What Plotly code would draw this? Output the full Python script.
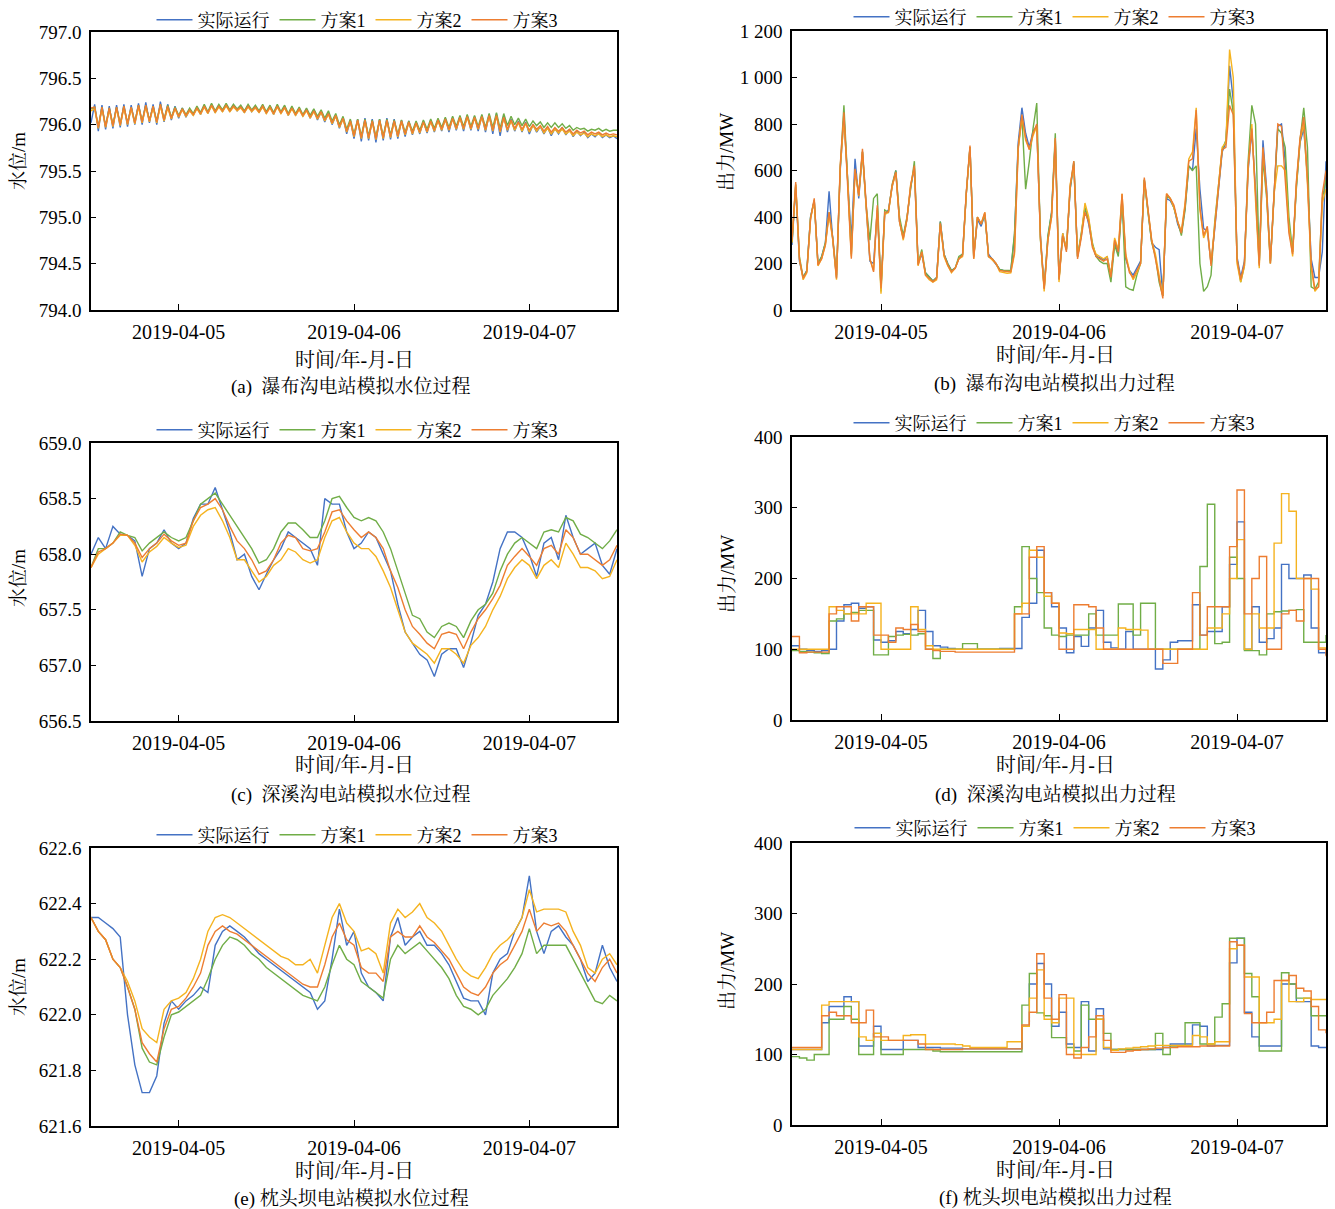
import pandas as pd
import plotly.graph_objects as go

# ---------------- time axes ----------------
t_half = pd.date_range("2019-04-04 12:00", periods=145, freq="30min")
t_hour = pd.date_range("2019-04-04 12:00", periods=73, freq="h")
names = ["实际运行", "方案1", "方案2", "方案3"]
colors = ["#4472C4", "#70AD47", "#F5B31F", "#ED7D31"]

# ---------------- (a) 瀑布沟 水位 (30 min) ----------------
a_blue = [796.02, 796.22, 795.93, 796.21, 795.95, 796.20, 795.96, 796.21, 795.97, 796.22, 795.98, 796.21,
          796.00, 796.23, 796.00, 796.24, 796.02, 796.22, 796.00, 796.25, 796.03, 796.22, 796.05, 796.20,
          796.07, 796.18, 796.08, 796.16, 796.10, 796.19, 796.11, 796.21, 796.12, 796.22, 796.13, 796.21,
          796.14, 796.22, 796.14, 796.21, 796.15, 796.20, 796.13, 796.21, 796.14, 796.20, 796.13, 796.21,
          796.12, 796.20, 796.11, 796.21, 796.12, 796.20, 796.10, 796.19, 796.10, 796.18, 796.09, 796.17,
          796.07, 796.16, 796.05, 796.14, 796.03, 796.13, 796.00, 796.10, 795.96, 796.08, 795.90, 796.05,
          795.85, 796.06, 795.82, 796.07, 795.83, 796.06, 795.81, 796.06, 795.83, 796.07, 795.84, 796.06,
          795.85, 796.05, 795.87, 796.04, 795.89, 796.03, 795.90, 796.04, 795.91, 796.05, 795.92, 796.06,
          795.93, 796.07, 795.92, 796.08, 795.94, 796.09, 795.93, 796.10, 795.94, 796.09, 795.93, 796.10,
          795.92, 796.11, 795.90, 796.12, 795.88, 796.10, 795.92, 796.06, 795.93, 796.04, 795.92, 796.03,
          795.90, 796.00, 795.92, 795.98, 795.90, 795.97, 795.88, 795.96, 795.90, 795.97, 795.89, 795.95,
          795.87, 795.93, 795.88, 795.92, 795.86, 795.90, 795.87, 795.91, 795.86, 795.89, 795.86, 795.88,
          795.85]
a_green = [796.17, 796.19, 795.98, 796.19, 795.99, 796.18, 796.00, 796.19, 796.01, 796.20, 796.02, 796.19,
           796.03, 796.21, 796.04, 796.21, 796.05, 796.20, 796.04, 796.22, 796.06, 796.21, 796.08, 796.19,
           796.10, 796.18, 796.11, 796.18, 796.12, 796.20, 796.13, 796.22, 796.14, 796.23, 796.15, 796.22,
           796.16, 796.23, 796.16, 796.22, 796.17, 796.21, 796.15, 796.22, 796.16, 796.21, 796.15, 796.22,
           796.14, 796.21, 796.13, 796.22, 796.14, 796.21, 796.12, 796.20, 796.12, 796.19, 796.11, 796.18,
           796.10, 796.17, 796.09, 796.16, 796.07, 796.15, 796.04, 796.12, 796.00, 796.09, 795.95, 796.06,
           795.90, 796.06, 795.88, 796.06, 795.88, 796.05, 795.87, 796.06, 795.88, 796.06, 795.89, 796.05,
           795.90, 796.05, 795.92, 796.04, 795.93, 796.04, 795.94, 796.05, 795.95, 796.06, 795.96, 796.07,
           795.97, 796.08, 795.97, 796.09, 795.98, 796.10, 795.98, 796.11, 795.98, 796.10, 795.98, 796.11,
           795.97, 796.12, 795.97, 796.13, 795.96, 796.12, 795.99, 796.09, 796.00, 796.07, 795.99, 796.06,
           795.98, 796.04, 795.99, 796.03, 795.97, 796.02, 795.97, 796.02, 795.97, 796.01, 795.96, 795.99,
           795.94, 795.97, 795.95, 795.96, 795.93, 795.95, 795.94, 795.96, 795.93, 795.95, 795.93, 795.94,
           795.94]
a_yellow = [796.15, 796.17, 795.96, 796.17, 795.97, 796.16, 795.98, 796.17, 795.99, 796.18, 796.00, 796.17,
            796.01, 796.19, 796.02, 796.19, 796.03, 796.18, 796.02, 796.20, 796.04, 796.18, 796.06, 796.17,
            796.08, 796.16, 796.09, 796.15, 796.10, 796.17, 796.11, 796.19, 796.12, 796.20, 796.13, 796.19,
            796.14, 796.20, 796.14, 796.19, 796.15, 796.18, 796.13, 796.19, 796.14, 796.18, 796.13, 796.19,
            796.12, 796.18, 796.11, 796.19, 796.12, 796.18, 796.10, 796.17, 796.10, 796.16, 796.09, 796.15,
            796.07, 796.14, 796.06, 796.13, 796.04, 796.11, 796.01, 796.09, 795.97, 796.06, 795.92, 796.03,
            795.87, 796.04, 795.85, 796.04, 795.85, 796.03, 795.84, 796.04, 795.85, 796.04, 795.86, 796.03,
            795.87, 796.03, 795.89, 796.02, 795.90, 796.01, 795.91, 796.02, 795.92, 796.03, 795.93, 796.04,
            795.94, 796.05, 795.94, 796.06, 795.95, 796.07, 795.95, 796.08, 795.95, 796.07, 795.95, 796.08,
            795.94, 796.09, 795.93, 796.09, 795.92, 796.07, 795.94, 796.04, 795.94, 796.02, 795.93, 796.01,
            795.92, 795.99, 795.93, 795.98, 795.91, 795.96, 795.90, 795.95, 795.91, 795.95, 795.90, 795.93,
            795.88, 795.92, 795.89, 795.91, 795.87, 795.90, 795.88, 795.90, 795.87, 795.89, 795.87, 795.88,
            795.87]
a_orange = [796.18, 796.19, 795.97, 796.19, 795.98, 796.18, 795.99, 796.19, 796.00, 796.20, 796.01, 796.19,
            796.02, 796.21, 796.03, 796.21, 796.04, 796.20, 796.03, 796.22, 796.05, 796.20, 796.07, 796.18,
            796.09, 796.17, 796.10, 796.16, 796.11, 796.18, 796.12, 796.20, 796.13, 796.21, 796.14, 796.20,
            796.15, 796.21, 796.15, 796.20, 796.16, 796.19, 796.14, 796.20, 796.15, 796.19, 796.14, 796.20,
            796.13, 796.19, 796.12, 796.20, 796.13, 796.19, 796.11, 796.18, 796.11, 796.17, 796.10, 796.16,
            796.08, 796.15, 796.07, 796.14, 796.05, 796.12, 796.02, 796.10, 795.98, 796.07, 795.93, 796.04,
            795.88, 796.05, 795.86, 796.05, 795.86, 796.04, 795.85, 796.05, 795.86, 796.05, 795.87, 796.04,
            795.88, 796.04, 795.90, 796.03, 795.91, 796.02, 795.92, 796.03, 795.93, 796.04, 795.94, 796.05,
            795.95, 796.06, 795.95, 796.07, 795.96, 796.08, 795.96, 796.09, 795.96, 796.08, 795.96, 796.09,
            795.95, 796.10, 795.94, 796.10, 795.93, 796.08, 795.95, 796.05, 795.96, 796.03, 795.95, 796.02,
            795.94, 796.00, 795.95, 795.99, 795.93, 795.98, 795.92, 795.97, 795.93, 795.97, 795.92, 795.95,
            795.90, 795.94, 795.91, 795.93, 795.89, 795.92, 795.90, 795.92, 795.89, 795.91, 795.89, 795.90,
            795.89]

# ---------------- (b) 瀑布沟 出力 (30 min) ----------------
b_blue = [280, 530, 210, 140, 170, 400, 470, 200, 230, 290, 510, 300,
          140, 600, 830, 560, 300, 650, 480, 680, 440, 210, 200, 430,
          100, 410, 430, 530, 600, 380, 310, 390, 530, 610, 200, 240,
          160, 140, 125, 140, 380, 240, 200, 170, 180, 220, 240, 500,
          700, 230, 390, 360, 410, 240, 220, 200, 175, 170, 170, 168,
          320, 720, 870, 760, 700, 770, 790, 320, 95, 310, 420, 730,
          135, 330, 260, 520, 630, 230, 320, 440, 370, 280, 230, 225,
          215, 230, 150, 290, 240, 480, 220, 170, 150, 180, 210, 560,
          410, 290, 270, 260, 60, 480, 470, 440, 370, 330, 440, 620,
          600, 780, 520, 350, 340, 200, 350, 520, 680, 720, 1050, 900,
          230, 140, 210, 600, 770, 520, 200, 730, 520, 210, 480, 790,
          800, 640, 350, 250, 530, 720, 780, 570, 220, 140, 140, 250,
          640]
b_green = [290, 540, 230, 140, 170, 400, 470, 200, 230, 290, 420, 310,
           150, 610, 880, 570, 240, 600, 500, 680, 450, 300, 480, 500,
           80, 430, 420, 540, 600, 400, 320, 400, 520, 640, 200, 260,
           160, 140, 125, 140, 380, 240, 200, 170, 180, 230, 240, 500,
           700, 230, 400, 370, 410, 230, 220, 200, 175, 170, 170, 170,
           330, 700, 830, 520, 640, 780, 890, 300, 95, 320, 420, 760,
           135, 320, 260, 520, 640, 230, 330, 440, 390, 290, 230, 210,
           200, 200, 120, 280, 230, 480, 100, 90, 85, 150, 200, 560,
           420, 290, 230, 120, 60, 490, 480, 440, 380, 320, 430, 620,
           600, 620, 200, 80, 100, 150, 380, 550, 690, 730, 950, 850,
           220, 120, 190, 640, 880, 800, 200, 650, 480, 200, 510, 780,
           760, 700, 400, 250, 520, 730, 870, 700, 100, 90, 120, 480,
           560]
b_yellow = [290, 540, 220, 130, 160, 390, 470, 190, 220, 280, 410, 300,
            130, 610, 820, 560, 230, 600, 490, 680, 440, 220, 170, 440,
            70, 410, 420, 530, 590, 380, 300, 390, 540, 610, 190, 250,
            150, 130, 120, 130, 370, 230, 190, 160, 180, 220, 230, 500,
            700, 220, 400, 370, 420, 230, 215, 200, 165, 160, 158, 160,
            240, 690, 830, 730, 690, 750, 790, 310, 80, 300, 400, 730,
            120, 330, 260, 540, 620, 230, 320, 460, 400, 280, 240, 230,
            220, 230, 150, 310, 260, 500, 240, 170, 130, 160, 200, 560,
            420, 300, 240, 140, 60, 500, 480, 440, 380, 340, 460, 650,
            680, 870, 430, 310, 350, 200, 370, 540, 700, 720, 1120, 1000,
            200, 120, 190, 610, 800, 470, 180, 690, 500, 200, 500, 620,
            620, 600, 360, 230, 540, 730, 800, 540, 180, 80, 100, 460,
            520]
b_orange = [300, 550, 220, 136, 164, 393, 480, 193, 221, 279, 421, 307,
            136, 621, 850, 564, 221, 607, 493, 693, 450, 221, 164, 450,
            93, 421, 421, 536, 593, 379, 307, 393, 536, 621, 193, 250,
            150, 136, 121, 136, 373, 236, 193, 164, 179, 221, 236, 507,
            707, 221, 400, 370, 420, 230, 220, 200, 170, 168, 165, 165,
            250, 700, 840, 740, 690, 760, 800, 307, 90, 300, 400, 740,
            130, 320, 250, 530, 640, 220, 310, 420, 380, 270, 230, 220,
            210, 220, 140, 300, 250, 500, 230, 160, 140, 170, 200, 570,
            420, 300, 220, 130, 50, 500, 480, 450, 380, 330, 450, 640,
            650, 860, 440, 320, 360, 190, 360, 530, 690, 700, 880, 840,
            220, 130, 200, 620, 780, 500, 190, 700, 500, 200, 500, 800,
            790, 540, 330, 240, 550, 740, 830, 560, 200, 90, 100, 500,
            600]

# ---------------- (c) 深溪沟 水位 (hourly) ----------------
c_blue = [658.00, 658.15, 658.05, 658.25, 658.18, 658.17, 658.12, 657.80, 658.05, 658.10, 658.22, 658.10,
          658.05, 658.10, 658.32, 658.45, 658.45, 658.60, 658.40, 658.20, 657.95, 658.00, 657.80, 657.68,
          657.82, 657.95, 658.05, 658.20, 658.15, 658.10, 658.05, 657.90, 658.50, 658.45, 658.45, 658.20,
          658.05, 658.10, 658.20, 658.15, 658.00, 657.85, 657.55, 657.30, 657.20, 657.10, 657.05, 656.90,
          657.10, 657.15, 657.15, 656.98, 657.20, 657.45, 657.55, 657.75, 658.05, 658.20, 658.20, 658.15,
          658.00, 657.80, 658.10, 658.15, 657.95, 658.35, 658.15, 658.00, 658.05, 658.10, 657.90, 657.82,
          658.05]
c_green = [657.88, 658.05, 658.05, 658.10, 658.20, 658.17, 658.15, 658.03, 658.10, 658.15, 658.20, 658.15,
           658.12, 658.15, 658.30, 658.45, 658.50, 658.55, 658.45, 658.35, 658.25, 658.15, 658.05, 657.92,
           657.95, 658.05, 658.20, 658.28, 658.28, 658.22, 658.15, 658.15, 658.30, 658.50, 658.52, 658.42,
           658.33, 658.30, 658.33, 658.30, 658.20, 658.05, 657.85, 657.65, 657.45, 657.42, 657.30, 657.25,
           657.35, 657.38, 657.35, 657.25, 657.40, 657.50, 657.55, 657.65, 657.85, 658.00, 658.10, 658.15,
           658.10, 658.05, 658.20, 658.22, 658.20, 658.33, 658.30, 658.18, 658.15, 658.10, 658.05, 658.12,
           658.22]
c_yellow = [657.88, 658.00, 658.05, 658.10, 658.17, 658.17, 658.08, 657.93, 658.02, 658.07, 658.15, 658.10,
            658.06, 658.08, 658.25, 658.35, 658.40, 658.42, 658.30, 658.15, 657.95, 657.95, 657.85, 657.75,
            657.80, 657.90, 657.95, 658.05, 658.02, 657.95, 657.92, 657.95, 658.15, 658.30, 658.33, 658.20,
            658.10, 658.05, 658.05, 657.98, 657.85, 657.70, 657.50, 657.30, 657.20, 657.15, 657.10, 657.02,
            657.15, 657.15, 657.10, 657.02, 657.18, 657.25, 657.35, 657.50, 657.62, 657.78, 657.88, 657.95,
            657.90, 657.78, 657.90, 657.95, 657.88, 658.10, 658.00, 657.88, 657.88, 657.85, 657.78, 657.80,
            657.95]
c_orange = [657.88, 658.02, 658.05, 658.10, 658.18, 658.17, 658.10, 657.97, 658.05, 658.10, 658.18, 658.12,
            658.08, 658.10, 658.30, 658.42, 658.45, 658.50, 658.40, 658.25, 658.12, 658.05, 657.95, 657.82,
            657.85, 657.95, 658.10, 658.17, 658.15, 658.05, 658.03, 658.05, 658.20, 658.38, 658.40, 658.30,
            658.22, 658.15, 658.20, 658.15, 658.05, 657.85, 657.70, 657.50, 657.35, 657.28, 657.20, 657.15,
            657.28, 657.30, 657.28, 657.15, 657.30, 657.42, 657.50, 657.60, 657.72, 657.90, 657.98, 658.05,
            657.98, 657.90, 658.05, 658.08, 658.00, 658.22, 658.15, 658.00, 658.00, 657.95, 657.90, 657.95,
            658.08]

# ---------------- (d) 深溪沟 出力 (hourly) ----------------
d_blue = [105, 100, 98, 97, 98, 100, 140, 163, 165, 158, 160, 113,
          110, 112, 125, 122, 128, 155, 125, 105, 103, 101, 100, 100,
          100, 100, 100, 100, 101, 101, 101, 145, 165, 240, 180, 160,
          130, 95, 118, 104, 130, 155, 110, 102, 100, 125, 100, 100,
          100, 72, 85, 110, 112, 112, 163, 120, 125, 125, 160, 220,
          280, 100, 160, 110, 115, 130, 220, 200, 200, 205, 130, 95,
          92]
d_green = [98, 97, 96, 95, 94, 140, 143, 150, 152, 155, 155, 92,
           92, 118, 120, 121, 120, 122, 100, 87, 100, 100, 100, 108,
           108, 100, 100, 100, 100, 100, 160, 245, 200, 180, 130, 120,
           118, 120, 120, 120, 150, 120, 120, 120, 164, 164, 120, 165,
           165, 100, 100, 100, 100, 100, 100, 217, 305, 108, 110, 230,
           200, 98, 98, 92, 150, 153, 154, 155, 156, 110, 110, 110,
           120]
d_yellow = [100, 100, 100, 100, 100, 160, 155, 150, 150, 150, 165, 165,
            100, 100, 100, 100, 160, 128, 105, 100, 100, 100, 100, 100,
            100, 100, 100, 100, 100, 100, 150, 165, 240, 230, 175, 165,
            123, 122, 128, 128, 128, 100, 100, 100, 130, 128, 128, 127,
            100, 100, 100, 100, 100, 100, 100, 100, 130, 130, 150, 200,
            255, 100, 150, 130, 130, 250, 320, 295, 200, 200, 185, 102,
            100]
d_orange = [118, 95, 96, 96, 96, 150, 160, 160, 140, 160, 160, 120,
            120, 110, 130, 128, 135, 125, 100, 98, 97, 97, 96, 96,
            96, 96, 96, 96, 96, 96, 150, 150, 230, 245, 180, 165,
            100, 100, 163, 163, 160, 130, 100, 100, 100, 100, 100, 100,
            100, 100, 80, 80, 100, 100, 180, 120, 160, 160, 160, 245,
            325, 150, 200, 231, 100, 100, 150, 155, 140, 200, 200, 100,
            90]

# ---------------- (e) 枕头坝 水位 (hourly) ----------------
e_blue = [622.35, 622.35, 622.33, 622.31, 622.28, 622.00, 621.82, 621.72, 621.72, 621.78, 621.97, 622.05,
          622.02, 622.05, 622.07, 622.10, 622.08, 622.25, 622.30, 622.32, 622.30, 622.28, 622.25, 622.22,
          622.20, 622.18, 622.16, 622.14, 622.12, 622.10, 622.08, 622.02, 622.05, 622.20, 622.38, 622.25,
          622.30, 622.15, 622.10, 622.08, 622.05, 622.28, 622.35, 622.25, 622.28, 622.30, 622.25, 622.25,
          622.22, 622.18, 622.12, 622.06, 622.05, 622.05, 622.00, 622.15, 622.20, 622.22, 622.30, 622.35,
          622.50, 622.30, 622.22, 622.30, 622.32, 622.28, 622.25, 622.20, 622.12, 622.15, 622.25, 622.17,
          622.12]
e_green = [622.35, 622.30, 622.27, 622.20, 622.17, 622.10, 622.02, 621.88, 621.83, 621.82, 621.92, 622.00,
           622.01, 622.03, 622.05, 622.07, 622.13, 622.20, 622.25, 622.28, 622.27, 622.25, 622.22, 622.20,
           622.17, 622.15, 622.13, 622.11, 622.09, 622.07, 622.06, 622.05, 622.10, 622.18, 622.25, 622.20,
           622.18, 622.12, 622.10, 622.08, 622.06, 622.20, 622.25, 622.22, 622.24, 622.26, 622.23, 622.20,
           622.17, 622.13, 622.07, 622.03, 622.02, 622.00, 622.02, 622.07, 622.10, 622.13, 622.17, 622.22,
           622.31, 622.22, 622.25, 622.25, 622.25, 622.25, 622.20, 622.15, 622.10, 622.05, 622.04, 622.07,
           622.05]
e_yellow = [622.35, 622.30, 622.27, 622.20, 622.17, 622.12, 622.05, 621.95, 621.92, 621.90, 622.02, 622.05,
            622.06, 622.08, 622.13, 622.20, 622.30, 622.35, 622.36, 622.35, 622.33, 622.31, 622.29, 622.27,
            622.25, 622.23, 622.21, 622.20, 622.18, 622.18, 622.20, 622.15, 622.25, 622.35, 622.40, 622.33,
            622.30, 622.23, 622.24, 622.22, 622.15, 622.33, 622.38, 622.35, 622.37, 622.40, 622.35, 622.33,
            622.30, 622.25, 622.20, 622.16, 622.14, 622.13, 622.17, 622.22, 622.25, 622.27, 622.30, 622.35,
            622.45, 622.37, 622.38, 622.38, 622.38, 622.37, 622.30, 622.25, 622.17, 622.15, 622.20, 622.22,
            622.18]
e_orange = [622.35, 622.30, 622.27, 622.20, 622.17, 622.10, 622.02, 621.90, 621.86, 621.83, 621.95, 622.02,
            622.03, 622.06, 622.10, 622.15, 622.25, 622.30, 622.32, 622.30, 622.29, 622.27, 622.25, 622.23,
            622.21, 622.19, 622.17, 622.15, 622.13, 622.11, 622.10, 622.10, 622.18, 622.28, 622.33, 622.27,
            622.25, 622.17, 622.15, 622.15, 622.12, 622.28, 622.30, 622.28, 622.28, 622.32, 622.28, 622.26,
            622.23, 622.20, 622.15, 622.10, 622.08, 622.07, 622.10, 622.15, 622.18, 622.20, 622.25, 622.30,
            622.38, 622.30, 622.33, 622.32, 622.33, 622.30, 622.25, 622.20, 622.15, 622.12, 622.17, 622.20,
            622.15]

# ---------------- (f) 枕头坝 出力 (hourly) ----------------
f_blue = [107, 107, 107, 107, 145, 168, 168, 182, 175, 112, 112, 140,
          107, 107, 107, 120, 120, 110, 110, 110, 109, 109, 109, 108,
          108, 108, 108, 108, 108, 108, 108, 140, 200, 229, 200, 140,
          160, 115, 110, 175, 105, 165, 108, 107, 107, 107, 107, 107,
          107, 107, 110, 115, 115, 115, 142, 140, 112, 113, 113, 230,
          265, 160, 125, 112, 112, 112, 200, 200, 175, 175, 112, 110,
          110]
f_green = [97, 95, 92, 100, 100, 150, 150, 168, 150, 100, 100, 130,
           100, 100, 100, 107, 107, 107, 107, 105, 104, 104, 104, 104,
           104, 104, 104, 104, 104, 104, 104, 170, 215, 159, 155, 124,
           124, 110, 105, 170, 150, 150, 130, 107, 107, 107, 107, 107,
           107, 130, 100, 112, 112, 145, 145, 115, 115, 153, 172, 265,
           265, 215, 182, 105, 105, 105, 216, 200, 180, 180, 155, 155,
           155]
f_yellow = [107, 107, 107, 107, 170, 175, 175, 175, 175, 125, 120, 130,
            120, 120, 120, 127, 128, 128, 115, 115, 115, 115, 114, 112,
            110, 110, 110, 110, 110, 118, 118, 140, 180, 220, 150, 145,
            180, 180, 100, 100, 100, 150, 110, 106, 108, 109, 110, 111,
            112, 113, 113, 113, 113, 113, 127, 125, 115, 118, 118, 250,
            255, 210, 210, 145, 145, 150, 205, 175, 175, 180, 178, 178,
            178]
f_orange = [110, 110, 110, 110, 155, 160, 155, 155, 145, 145, 163, 125,
            125, 120, 120, 120, 120, 115, 107, 107, 107, 107, 107, 108,
            108, 108, 108, 108, 108, 108, 108, 142, 160, 243, 180, 150,
            185, 100, 95, 110, 125, 155, 120, 103, 103, 105, 106, 107,
            108, 109, 110, 110, 111, 111, 111, 112, 112, 112, 112, 260,
            255, 158, 145, 145, 160, 205, 205, 212, 194, 190, 168, 135,
            130]

# ---------------- panel texts ----------------
captions = ["(a)  瀑布沟电站模拟水位过程", "(b)  瀑布沟电站模拟出力过程",
            "(c)  深溪沟电站模拟水位过程", "(d)  深溪沟电站模拟出力过程",
            "(e) 枕头坝电站模拟水位过程", "(f) 枕头坝电站模拟出力过程"]
xtitle = "时间/年-月-日"
ytitles = ["水位/m", "出力/MW", "水位/m", "出力/MW", "水位/m", "出力/MW"]
date_ticks = ["2019-04-05", "2019-04-06", "2019-04-07"]

W, H = 1335, 1209
FONT = "Liberation Serif, Noto Serif CJK SC, Noto Sans CJK SC, serif"


def px(x):
    return x / W


def py(y):
    return 1 - y / H


# panel boxes in pixels: (left, top, right, bottom)
boxes = [(91, 32, 617, 310), (792, 31, 1326, 310),
         (91, 443, 617, 721), (792, 437, 1326, 720),
         (91, 848, 617, 1126), (792, 843, 1326, 1125)]

panels = [
    (t_half, [a_blue, a_green, a_yellow, a_orange], "linear"),
    (t_half, [b_blue, b_green, b_yellow, b_orange], "linear"),
    (t_hour, [c_blue, c_green, c_yellow, c_orange], "linear"),
    (t_hour, [d_blue, d_green, d_yellow, d_orange], "hv"),
    (t_hour, [e_blue, e_green, e_yellow, e_orange], "linear"),
    (t_hour, [f_blue, f_green, f_yellow, f_orange], "hv"),
]

fig = go.Figure()
for i, (tt, series, shape) in enumerate(panels):
    n = i + 1
    xa = "x" if n == 1 else f"x{n}"
    ya = "y" if n == 1 else f"y{n}"
    lg = "legend" if n == 1 else f"legend{n}"
    for name, col, vals in zip(names, colors, series):
        fig.add_trace(go.Scatter(x=tt, y=vals, mode="lines", name=name,
                                 line=dict(color=col, width=1.4, shape=shape),
                                 xaxis=xa, yaxis=ya, legend=lg))

yranges = [[794, 797], [0, 1200], [656.5, 659], [0, 400], [621.6, 622.6], [0, 400]]
ydticks = [0.5, 200, 0.5, 100, 0.2, 100]
yfmt = [".1f", None, ".1f", None, ".1f", None]

layout = dict(width=W, height=H, margin=dict(l=0, r=0, t=0, b=0, autoexpand=False),
              paper_bgcolor="white", plot_bgcolor="white",
              font=dict(family=FONT, size=19, color="black"),
              showlegend=True, annotations=[])

legend_pos = [(357, 20), (1054, 17), (357, 430), (1054, 423), (357, 835), (1055, 828)]
ytitle_pos = [(18, 161), (727, 152), (18, 578), (727, 574), (18, 987), (727, 971)]
xtitle_pos = [(354, 360), (1055, 355), (354, 765), (1055, 765), (354, 1171), (1055, 1170)]
cap_pos = [(351, 387), (1054, 384), (351, 795), (1055, 795), (351, 1199), (1055, 1198)]

for i in range(6):
    n = i + 1
    l, t, r, b = boxes[i]
    xk = "xaxis" if n == 1 else f"xaxis{n}"
    yk = "yaxis" if n == 1 else f"yaxis{n}"
    ya = "y" if n == 1 else f"y{n}"
    xa = "x" if n == 1 else f"x{n}"
    layout[xk] = dict(domain=[px(l), px(r)], anchor=ya, type="date",
                      range=["2019-04-04 12:00", "2019-04-07 12:00"],
                      tickvals=date_ticks, ticktext=date_ticks,
                      ticks="inside", ticklen=6, tickwidth=1.3, tickcolor="black",
                      showline=True, linecolor="black", linewidth=1.6, mirror=True,
                      showgrid=False, zeroline=False,
                      tickfont=dict(size=20, family=FONT), ticklabelstandoff=3)
    yd = dict(domain=[py(b), py(t)], anchor=xa, range=yranges[i],
              dtick=ydticks[i], tick0=yranges[i][0],
              ticks="inside", ticklen=5, tickwidth=1.3, tickcolor="black",
              showline=True, linecolor="black", linewidth=1.6, mirror=True,
              showgrid=False, zeroline=False,
              tickfont=dict(size=19, family=FONT), ticklabelstandoff=4)
    if yfmt[i]:
        yd["tickformat"] = yfmt[i]
    if n == 2:
        vals = [0, 200, 400, 600, 800, 1000, 1200]
        yd["tickvals"] = vals
        yd["ticktext"] = ["0", "200", "400", "600", "800", "1 000", "1 200"]
    layout[yk] = yd

    lk = "legend" if n == 1 else f"legend{n}"
    lx, ly = legend_pos[i]
    layout[lk] = dict(orientation="h", x=px(lx), y=py(ly), xanchor="center", yanchor="middle",
                      font=dict(size=18, family=FONT), bgcolor="rgba(0,0,0,0)",
                      itemwidth=36, tracegroupgap=0)

    ax, ay = ytitle_pos[i]
    layout["annotations"].append(dict(text=ytitles[i], x=px(ax), y=py(ay), xref="paper", yref="paper",
                                      showarrow=False, textangle=-90, font=dict(size=19, family=FONT),
                                      xanchor="center", yanchor="middle"))
    ax, ay = xtitle_pos[i]
    layout["annotations"].append(dict(text=xtitle, x=px(ax), y=py(ay), xref="paper", yref="paper",
                                      showarrow=False, font=dict(size=20, family=FONT),
                                      xanchor="center", yanchor="middle"))
    ax, ay = cap_pos[i]
    layout["annotations"].append(dict(text=captions[i], x=px(ax), y=py(ay), xref="paper", yref="paper",
                                      showarrow=False, font=dict(size=19, family=FONT),
                                      xanchor="center", yanchor="middle"))

fig.update_layout(**layout)
fig.write_html("out.html")
